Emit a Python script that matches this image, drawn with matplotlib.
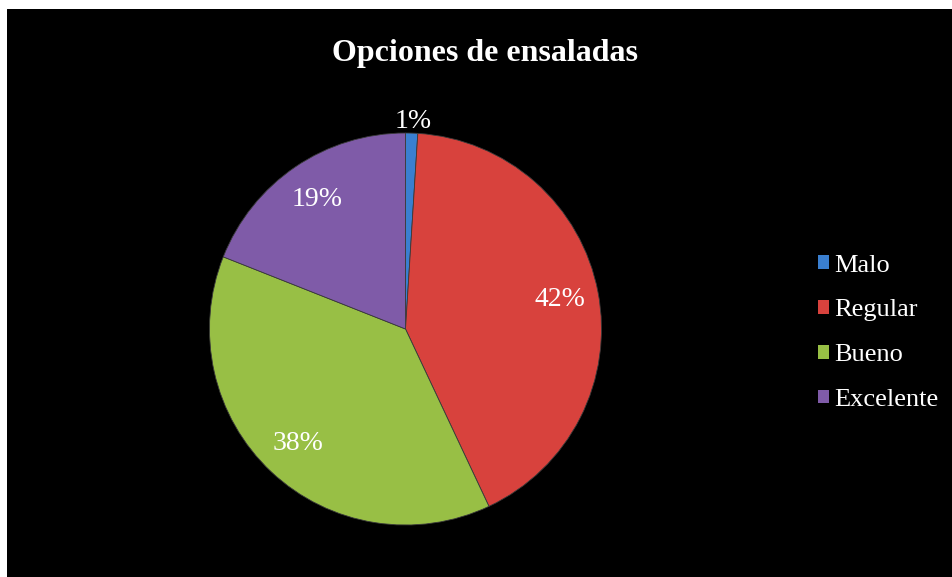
import matplotlib.pyplot as plt
from matplotlib.patches import Patch

# survey results
labels = ['Malo', 'Regular', 'Bueno', 'Excelente']
values = [1, 42, 38, 19]
colors = ['#3a7fd0', '#d8423d', '#98bf45', '#7f5ba8']
title = 'Opciones de ensaladas'

W, H = 953, 577
fig = plt.figure(figsize=(W / 100, H / 100), dpi=100, facecolor='white')

# black panel, leaving a thin white strip on the top and left
ax = fig.add_axes([7 / W, 0, 1 - 7 / W, 1 - 9 / H])
ax.set_facecolor('black')

cx, cy, r = 405.5, H - 329, 196
wedges, texts, autotexts = ax.pie(
    values, colors=colors, startangle=90, counterclock=False,
    center=(cx, cy), radius=r, autopct='%1.0f%%', pctdistance=0.8,
    wedgeprops=dict(edgecolor='#3a3a3a', linewidth=0.6),
    textprops=dict(color='white', fontsize=20, family='Liberation Serif'),
    frame=True)
ax.set_xlim(7, W)
ax.set_ylim(0, H - 9)
ax.set_aspect('equal')
ax.set_axis_off()
ax.add_patch(plt.Rectangle((7, 0), W - 7, H - 9, color='black', zorder=0))

# the thin first slice gets its label outside the pie
autotexts[0].set_position((cx + 8, cy + r * 1.06))

fig.text(485 / W, 1 - 53 / H, title, ha='center', va='center',
         color='white', fontsize=23, fontweight='bold', family='Liberation Serif')

handles = [Patch(facecolor=c, edgecolor='none') for c in colors]
leg = ax.legend(handles, labels, loc='upper left',
                bbox_to_anchor=(794 / W, 1 - 231 / H), bbox_transform=fig.transFigure,
                frameon=False, handlelength=0.42, handleheight=0.42, handletextpad=0.2,
                labelspacing=0.86, prop=dict(family='Liberation Serif', size=19))
for t in leg.get_texts():
    t.set_color('white')

fig.savefig('out.png', dpi=100, facecolor='white')
